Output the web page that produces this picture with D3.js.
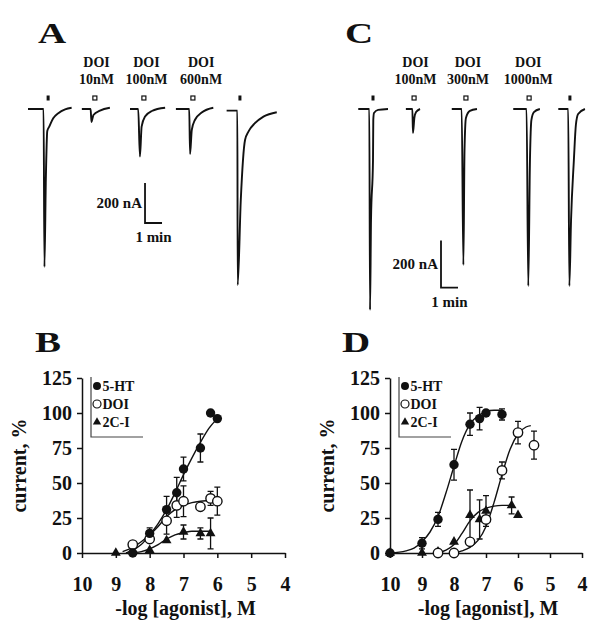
<!DOCTYPE html>
<html><head><meta charset="utf-8">
<script src="https://cdn.jsdelivr.net/npm/d3@7/dist/d3.min.js"></script>
<style>
body{margin:0;background:#fff;}
svg{display:block;}
text{font-family:"Liberation Serif","Times New Roman",serif;fill:#111;}
</style></head><body>
<svg id="fig" width="602" height="640"></svg>
<script>
// ---------------- DATA ----------------
// Panel A traces: [time s, current nA]
const traceA1 = [[0,0],[55,0],[58,-790],[63,-350],[68,-110],[75,-88],[89,-46],[107,-21],[131,-2],[154,6]];
const traceA2 = [[190,0],[221,0],[224,-65],[228,-45],[231,-30],[254,-8],[289,6]];
const traceA3 = [[360,0],[389,0],[395,-238],[401,-88],[413,-38],[437,-10],[484,6]];
const traceA4 = [[522,0],[569,0],[572,-225],[578,-105],[589,-55],[613,-18],[654,6]];
const traceA5 = [[701,-8],[739,-8],[740,-880],[751,-455],[766,-155],[778,-113],[801,-71],[831,-38],[878,-16]];
const markersA = [[71,"5-HT"],[236,"DOI"],[409,"DOI"],[582,"DOI"],[748,"5-HT"]];
const labelsA = [[242,"DOI","10nM"],[418,"DOI","100nM"],[611,"DOI","600nM"]];
// Panel C traces
const traceC1 = [[8,0],[47,0],[49.5,-855],[53,-470],[60,-217],[61,-47],[63.5,-17],[78,-4],[113,0]];
const traceC2 = [[176,0],[199,0],[201,-102],[206,-38],[212,-13],[226,0]];
const traceC3 = [[338,0],[373,0],[379,-664],[383,-174],[388,-38],[402,-8],[427,0]];
const traceC4 = [[555,0],[602,0],[608,-753],[614,-217],[619,-47],[628,-13],[649,0]];
const traceC5 = [[714,0],[749,0],[753,-753],[759,-472],[769,-217],[776,-68],[784,-21],[808,0]];
const markersC = [[60,"5-HT"],[205,"DOI"],[388,"DOI"],[611,"DOI"],[755,"5-HT"]];
const labelsC = [[210,"DOI","100nM"],[395,"DOI","300nM"],[608,"DOI","1000nM"]];

// Dose-response axes
const xTicks = [10,9,8,7,6,5,4];
const yTicks = [0,25,50,75,100,125];
const legendLabels = ["5-HT","DOI","2C-I"];

// Panel B
const bHT_x  = [8.5, 8.0, 7.5, 7.2, 7.0, 6.5, 6.2, 6.0];
const bHT_y  = [0, 14, 31, 43, 60, 75, 100, 96];
const bHT_e  = [0, 4, 9.5, 11, 8.5, 10, 0, 0];
const bDOI_x = [8.5, 8.0, 7.5, 7.2, 7.0, 6.5, 6.2, 6.0];
const bDOI_y = [6, 10, 23, 34, 37, 33, 39, 37];
const bDOI_e = [0, 0, 9.5, 8.5, 11, 0, 5, 10];
const bCI_x  = [9.0, 8.0, 7.5, 7.0, 6.5, 6.2];
const bCI_y  = [0, 2, 9, 15, 14, 14];
const bCI_e  = [0, 0, 0, 5, 4, 11];
const bHTfit_x  = [8.7, 8.5, 8.25, 8.0, 7.75, 7.5, 7.25, 7.0, 6.75, 6.5, 6.25, 6.0];
const bHTfit_y  = [0, 2, 6, 13, 21, 31, 43, 56, 68, 79, 89, 96];
const bDOIfit_x = [8.8, 8.5, 8.25, 8.0, 7.75, 7.5, 7.25, 7.0, 6.75, 6.5, 6.25, 6.0];
const bDOIfit_y = [1, 4, 8, 13, 19, 26, 31, 34, 36, 37, 37.5, 38];
const bCIfit_x  = [8.6, 8.25, 8.0, 7.75, 7.5, 7.25, 7.0, 6.75, 6.5, 6.2];
const bCIfit_y  = [0, 1, 3, 6, 10, 13, 14.5, 15.5, 15.5, 15.5];

// Panel D
const dHT_x  = [10, 9.0, 8.5, 8.0, 7.5, 7.2, 7.0, 6.5];
const dHT_y  = [0, 7, 24, 63, 92, 96, 100, 99];
const dHT_e  = [0, 4, 5, 11, 8, 8, 0, 4];
const dDOI_x = [8.5, 8.0, 7.5, 7.0, 6.5, 6.0, 5.5];
const dDOI_y = [0, 0, 8, 24, 59, 86, 77];
const dDOI_e = [0, 0, 0, 0, 6, 8, 10];
const dCI_x  = [10, 9.0, 8.5, 8.0, 7.5, 7.2, 7.0, 6.2, 6.0];
const dCI_y  = [0, 0, 1, 8, 27, 24, 30, 34, 27];
const dCI_e  = [0, 0, 0, 0, 18, 14, 11, 6, 0];
const dHTfit_x  = [10, 9.5, 9.25, 9.0, 8.75, 8.5, 8.25, 8.0, 7.75, 7.5, 7.25, 7.0, 6.75, 6.5];
const dHTfit_y  = [0, 1.5, 3.5, 8, 15, 26, 43, 62, 80, 92, 98, 101, 102, 102];
const dDOIfit_x = [8.0, 7.75, 7.5, 7.25, 7.0, 6.75, 6.5, 6.25, 6.0, 5.75, 5.6];
const dDOIfit_y = [0, 1.5, 4, 9, 19, 36, 56, 74, 85, 90, 91];
const dCIfit_x  = [8.5, 8.25, 8.0, 7.75, 7.5, 7.25, 7.0, 6.75, 6.5, 6.2];
const dCIfit_y  = [0, 2, 6, 14, 23, 29, 32, 33.5, 34, 34];

// ---------------- DRAW ----------------
const svg = d3.select("#fig");
const INK = "#111";

function letter(txt, x, y) {
  svg.append("text").attr("x", x).attr("y", y).attr("font-size", 30).attr("font-weight", "bold")
    .attr("transform", `translate(${x},0) scale(1.3,1) translate(${-x},0)`).text(txt);
}
letter("A", 38, 43); letter("C", 345, 43); letter("B", 35, 352); letter("D", 342, 352);

function tracePanel(traces, markers, labels, x0, nAperPx, bar) {
  const xs = d3.scaleLinear().domain([0, 60]).range([x0, x0 + 17]);
  const ys = d3.scaleLinear().domain([0, -200]).range([109, 109 + 200 * nAperPx]);
  const line = d3.line().x(d => xs(d[0])).y(d => ys(d[1])).curve(d3.curveMonotoneX);
  const g = svg.append("g");
  traces.forEach(tr => g.append("path").attr("d", line(tr)).attr("fill", "none")
    .attr("stroke", INK).attr("stroke-width", 1.9).attr("stroke-linejoin", "round"));
  markers.forEach(([t, type]) => {
    if (type === "5-HT") g.append("rect").attr("x", xs(t) - 1.5).attr("y", 95.5).attr("width", 3).attr("height", 5).attr("fill", INK);
    else g.append("rect").attr("x", xs(t) - 2).attr("y", 96).attr("width", 4).attr("height", 4)
      .attr("fill", "#fff").attr("stroke", INK).attr("stroke-width", 1.2);
  });
  labels.forEach(([t, a, b]) => {
    g.append("text").attr("x", xs(t)).attr("y", 67).attr("text-anchor", "middle").attr("font-size", 14).attr("font-weight", "bold").text(a);
    g.append("text").attr("x", xs(t)).attr("y", 84).attr("text-anchor", "middle").attr("font-size", 14).attr("font-weight", "bold").text(b);
  });
  // scale bar: 200 nA x 1 min, positioned at a time/current in panel coordinates
  const cx = xs(bar.t), cy = ys(bar.i);
  g.append("path").attr("d", `M${cx},${ys(bar.i + 200)}V${cy}H${xs(bar.t + 60)}`)
    .attr("fill", "none").attr("stroke", INK).attr("stroke-width", 1.8);
  g.append("text").attr("x", cx - 3).attr("y", (cy + ys(bar.i + 200)) / 2 + 5).attr("text-anchor", "end")
    .attr("font-size", 15).attr("font-weight", "bold").text("200 nA");
  g.append("text").attr("x", (cx + xs(bar.t + 60)) / 2).attr("y", cy + 19).attr("text-anchor", "middle")
    .attr("font-size", 15).attr("font-weight", "bold").text("1 min");
}
tracePanel([traceA1, traceA2, traceA3, traceA4, traceA5], markersA, labelsA, 28, 0.2, {t: 413, i: -570});
tracePanel([traceC1, traceC2, traceC3, traceC4, traceC5], markersC, labelsC, 356, 0.235, {t: 300, i: -760});

function zip(xa, ya, ea) { return xa.map((x, i) => ({x, y: ya[i], e: ea ? ea[i] : 0})); }

function dosePanel(xRange, series, fits) {
  const xs = d3.scaleLinear().domain([10, 4]).range(xRange);
  const ys = d3.scaleLinear().domain([0, 125]).range([553, 378]);
  const g = svg.append("g");
  const ax0 = xRange[0];
  // axes
  const xa = g.append("g").attr("transform", `translate(0,${ys(0)})`)
    .call(d3.axisBottom(xs).tickValues(xTicks).tickSize(5).tickSizeOuter(0).tickPadding(19).tickFormat(d3.format("d")));
  const ya = g.append("g").attr("transform", `translate(${ax0},0)`)
    .call(d3.axisLeft(ys).tickValues(yTicks).tickSize(5).tickSizeOuter(0).tickPadding(5));
  [xa, ya].forEach(a => {
    a.selectAll("path,line").attr("stroke", INK).attr("stroke-width", 1.5);
    a.selectAll("text").attr("font-family", "Liberation Serif, serif").attr("font-size", 20)
      .attr("font-weight", "bold").attr("fill", INK);
  });
  // axis titles
  g.append("text").attr("transform", `translate(${ax0 - 56},${ys(62.5)}) rotate(-90)`)
    .attr("text-anchor", "middle").attr("font-size", 20).attr("font-weight", "bold").text("current, %");
  g.append("text").attr("x", (xs(10) + xs(4)) / 2 + 2).attr("y", 615).attr("text-anchor", "middle")
    .attr("font-size", 20).attr("font-weight", "bold").text("-log [agonist], M");
  // fitted curves
  const line = d3.line().x(d => xs(d.x)).y(d => ys(d.y)).curve(d3.curveMonotoneX);
  fits.forEach(f => g.append("path").attr("d", line(f)).attr("fill", "none").attr("stroke", INK).attr("stroke-width", 1.4));
  // error bars + markers
  const sym = {
    "5-HT": sel => sel.append("circle").attr("r", 4.7).attr("fill", INK),
    "DOI": sel => sel.append("circle").attr("r", 4.7).attr("fill", "#fff").attr("stroke", INK).attr("stroke-width", 1.4),
    "2C-I": sel => sel.append("path").attr("d", d3.symbol(d3.symbolTriangle, 42)()).attr("fill", INK)
  };
  series.forEach(s => {
    s.pts.forEach(p => {
      if (p.e > 0) {
        const x = xs(p.x), y1 = ys(p.y + p.e), y2 = ys(p.y - p.e);
        g.append("path").attr("d", `M${x},${y1}V${y2}M${x - 3},${y1}H${x + 3}M${x - 3},${y2}H${x + 3}`)
          .attr("stroke", INK).attr("stroke-width", 1.3).attr("fill", "none");
      }
    });
  });
  series.forEach(s => {
    s.pts.forEach(p => {
      const m = g.append("g").attr("transform", `translate(${xs(p.x)},${ys(p.y)})`);
      sym[s.name](m);
    });
  });
  // legend
  const lg = g.append("g").attr("transform", `translate(${ax0 + 9},377)`);
  lg.append("path").attr("d", "M0,0V60H52").attr("fill", "none").attr("stroke", "#444").attr("stroke-width", 1.2);
  legendLabels.forEach((name, i) => {
    const yy = 9 + i * 18;
    const m = lg.append("g").attr("transform", `translate(6,${yy}) scale(0.85)`);
    sym[name](m);
    lg.append("text").attr("x", 11.5).attr("y", yy + 5).attr("font-size", 14).attr("font-weight", "bold").text(name);
  });
}
dosePanel([82, 285],
  [{name: "2C-I", pts: zip(bCI_x, bCI_y, bCI_e)}, {name: "DOI", pts: zip(bDOI_x, bDOI_y, bDOI_e)}, {name: "5-HT", pts: zip(bHT_x, bHT_y, bHT_e)}],
  [zip(bHTfit_x, bHTfit_y), zip(bDOIfit_x, bDOIfit_y), zip(bCIfit_x, bCIfit_y)]);
dosePanel([390, 582],
  [{name: "2C-I", pts: zip(dCI_x, dCI_y, dCI_e)}, {name: "DOI", pts: zip(dDOI_x, dDOI_y, dDOI_e)}, {name: "5-HT", pts: zip(dHT_x, dHT_y, dHT_e)}],
  [zip(dHTfit_x, dHTfit_y), zip(dDOIfit_x, dDOIfit_y), zip(dCIfit_x, dCIfit_y)]);
</script>
</body></html>
